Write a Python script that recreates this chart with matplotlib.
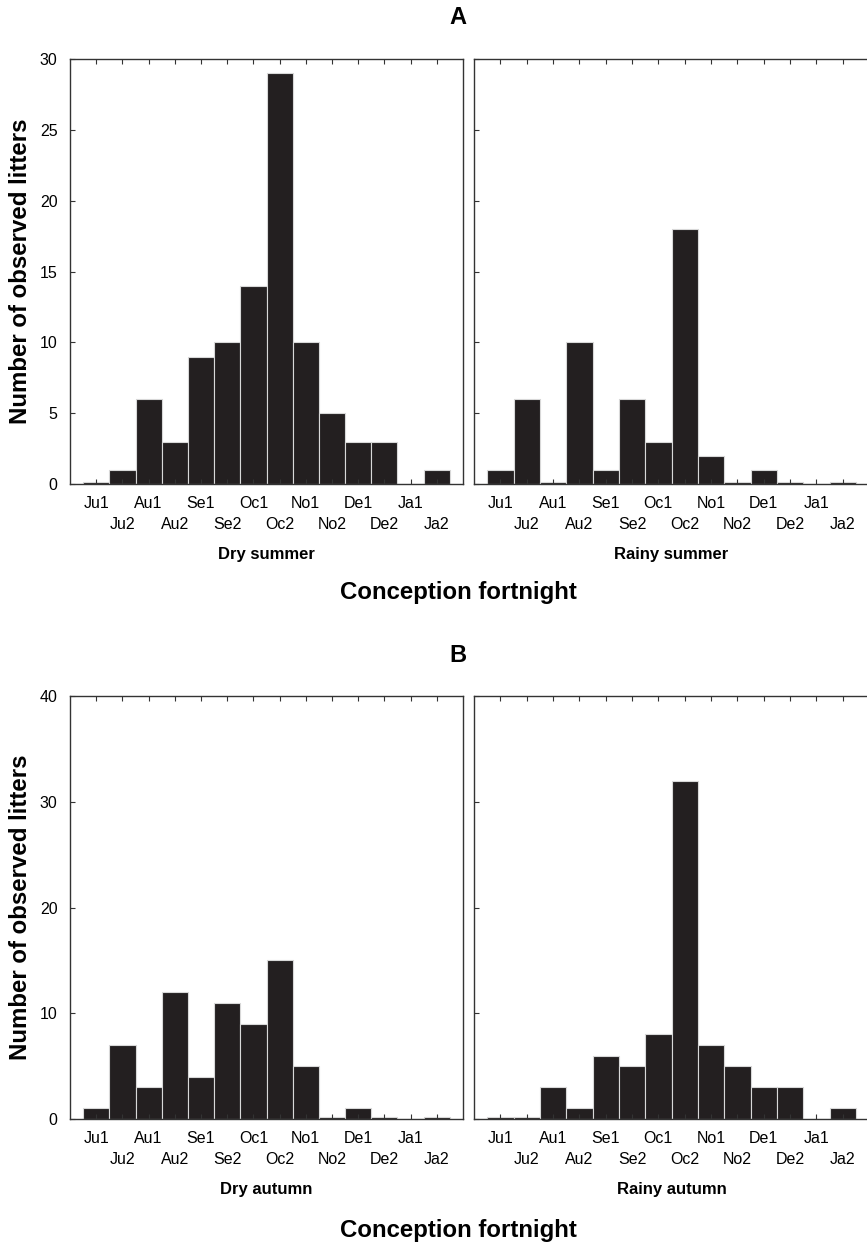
import matplotlib
matplotlib.use('Agg')
import matplotlib.pyplot as plt
import numpy as np

plt.rcParams['font.family'] = ['Liberation Sans', 'DejaVu Sans']

fortnights = ['Ju1', 'Ju2', 'Au1', 'Au2', 'Se1', 'Se2', 'Oc1', 'Oc2',
              'No1', 'No2', 'De1', 'De2', 'Ja1', 'Ja2']
# counts (tiny stubs drawn where the count is zero)
dry_summer = [0.12, 1, 6, 3, 9, 10, 14, 29, 10, 5, 3, 3, 0, 1]
rainy_summer = [1, 6, 0.12, 10, 1, 6, 3, 18, 2, 0.12, 1, 0.12, 0, 0.12]
dry_autumn = [1, 7, 3, 12, 4, 11, 9, 15, 5, 0.16, 1, 0.16, 0, 0.16]
rainy_autumn = [0.16, 0.16, 3, 1, 6, 5, 8, 32, 7, 5, 3, 3, 0, 1]

W, H = 867, 1245
fig = plt.figure(figsize=(W / 100, H / 100), dpi=100)

def px_axes(x0, y0, x1, y1):
    return fig.add_axes([x0 / W, 1 - y1 / H, (x1 - x0) / W, (y1 - y0) / H])

barcol = '#231f20'
edgecol = '#d8d8d8'
spinecol = '#333333'

def panel(ax, vals, ymax, ystep, title, show_y):
    x = np.arange(len(fortnights))
    ax.bar(x, vals, width=1.0, color=barcol, edgecolor=edgecol, linewidth=0.8)
    ax.set_xlim(-1.0, 14.0)
    ax.set_ylim(0, ymax)
    ax.set_yticks(np.arange(0, ymax + 1, ystep))
    ax.set_xticks(x[::2])
    ax.set_xticklabels(fortnights[::2])
    ax.set_xticks(x[1::2], minor=True)
    ax.set_xticklabels(fortnights[1::2], minor=True)
    ax.tick_params(axis='x', which='both', direction='in', top=True, bottom=True,
                   length=3.5, width=0.8, color=spinecol, labelsize=11.5)
    ax.tick_params(axis='x', which='major', pad=8.5)
    ax.tick_params(axis='x', which='minor', pad=23.5)
    ax.tick_params(axis='y', direction='in', left=True, right=False, length=3.5,
                   width=0.8, color=spinecol, labelsize=11.5, pad=9,
                   labelleft=show_y)
    for s in ax.spines.values():
        s.set_color(spinecol)
        s.set_linewidth(1.0)
    ax.set_xlabel(title, fontsize=12, fontweight='bold', labelpad=11)

ax1 = px_axes(70, 59, 463, 484)
ax2 = px_axes(474, 59, 869, 484)
ax3 = px_axes(70, 696, 463, 1119)
ax4 = px_axes(474, 696, 869, 1119)

panel(ax1, dry_summer, 30, 5, 'Dry summer', True)
panel(ax2, rainy_summer, 30, 5, 'Rainy summer', False)
panel(ax3, dry_autumn, 40, 10, 'Dry autumn', True)
panel(ax4, rainy_autumn, 40, 10, 'Rainy autumn', False)

for ax in (ax1, ax3):
    ax.set_ylabel('Number of observed litters', fontsize=17.3, fontweight='bold',
                  labelpad=5.5)

fig.text(458 / W, 1 - 17 / H, 'A', ha='center', va='center', fontsize=17, fontweight='bold')
fig.text(458 / W, 1 - 656 / H, 'B', ha='center', va='center', fontsize=17, fontweight='bold')
fig.text(458 / W, 1 - 592 / H, 'Conception fortnight', ha='center', va='center',
         fontsize=17.3, fontweight='bold')
fig.text(458 / W, 1 - 1230 / H, 'Conception fortnight', ha='center', va='center',
         fontsize=17.3, fontweight='bold')

fig.savefig('out.png', dpi=100, facecolor='white')
